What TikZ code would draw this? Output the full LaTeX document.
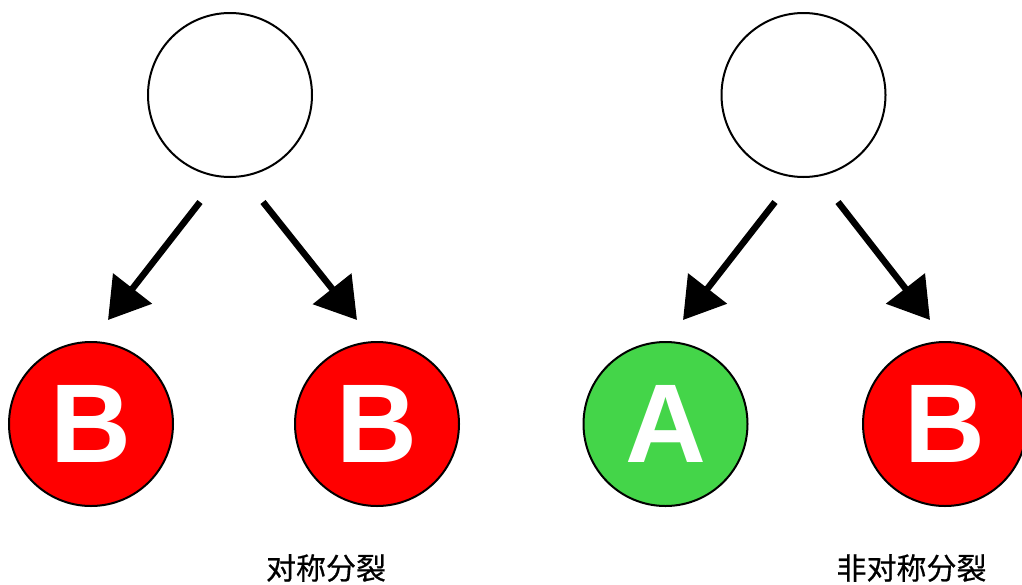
\documentclass[tikz,border=0pt]{standalone}
\usepackage{fontspec}
\setmainfont{Liberation Sans}
\newfontfamily\cjk[FakeBold=0.6]{Noto Sans CJK SC}
\usetikzlibrary{arrows.meta,calc}
\definecolor{cellred}{HTML}{FF0000}
\definecolor{cellgreen}{HTML}{44D549}
\tikzset{
  cell/.style={circle, draw=black, line width=2pt, minimum size=164pt, inner sep=0pt,
    text=white, font=\fontsize{112}{112}\selectfont\bfseries},
  parent/.style={cell, fill=white},
  redcell/.style={cell, fill=cellred},
  greencell/.style={cell, fill=cellgreen},
  arr/.style={line width=6.5pt, -{Triangle[length=40pt,width=48pt]}},
  lbl/.style={font=\cjk\fontsize{30}{30}\selectfont, inner sep=0pt}
}
\begin{document}
\begin{tikzpicture}[x=1pt,y=-1pt]
\useasboundingbox (0,0) rectangle (1022,584);
\node[parent] (p1) at (230,95) {};
\node[parent] (p2) at (803.5,95) {};
\node[redcell] (b1) at (91,424) {B};
\node[redcell] (b2) at (377,424) {B};
\node[greencell] (a3) at (665.5,424) {A};
\node[redcell] (b4) at (945,424) {B};
\draw[arr] ($(p1.center)+(-30,107)$) -- ($(b1.center)+(17,-104)$);
\draw[arr] ($(p1.center)+(33,107)$) -- ($(b2.center)+(-20,-104)$);
\draw[arr] ($(p2.center)+(-28.5,107)$) -- ($(a3.center)+(17.5,-104)$);
\draw[arr] ($(p2.center)+(34.5,107)$) -- ($(b4.center)+(-15,-104)$);
\node[lbl] (l1) at (326,568) {对称分裂};
\node[lbl] (l2) at (911.5,568) {非对称分裂};
\end{tikzpicture}
\end{document}
